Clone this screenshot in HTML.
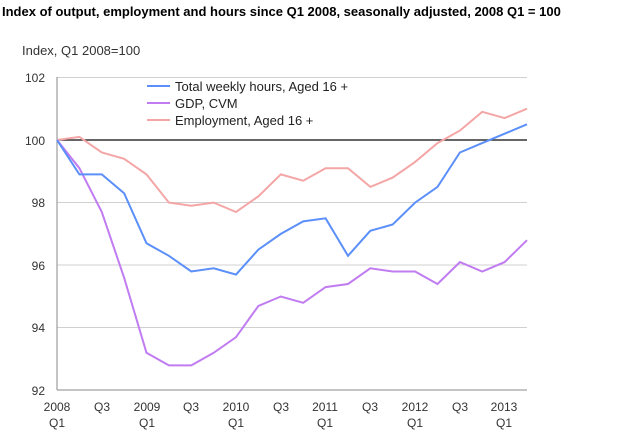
<!DOCTYPE html>
<html><head><meta charset="utf-8"><style>
body{margin:0;background:#fff;width:620px;height:441px;overflow:hidden;font-family:"Liberation Sans",sans-serif;}
</style></head><body>
<svg width="620" height="441" xmlns="http://www.w3.org/2000/svg" font-family="Liberation Sans, sans-serif">
<text x="2" y="16" font-size="13" font-weight="bold" fill="#000">Index of output, employment and hours since Q1 2008, seasonally adjusted, 2008 Q1 = 100</text>
<text x="22" y="55" font-size="13" fill="#333">Index, Q1 2008=100</text>
<g stroke="#d0d0d0" stroke-width="1">
<line x1="57" y1="77.5" x2="527" y2="77.5"/>
<line x1="57" y1="202.5" x2="527" y2="202.5"/>
<line x1="57" y1="265" x2="527" y2="265"/>
<line x1="57" y1="327.5" x2="527" y2="327.5"/>
</g>
<line x1="57" y1="140" x2="527" y2="140" stroke="#333" stroke-width="1.5"/>
<line x1="57" y1="77" x2="57" y2="390" stroke="#888"/>
<line x1="57" y1="390" x2="527" y2="390" stroke="#888"/>
<g font-size="12" fill="#333" text-anchor="end">
<text x="45" y="82">102</text><text x="45" y="145">100</text><text x="45" y="207">98</text>
<text x="45" y="270">96</text><text x="45" y="332">94</text><text x="45" y="395">92</text>
</g>
<g font-size="12" fill="#333" text-anchor="middle">
<text x="57" y="411">2008</text><text x="57" y="427">Q1</text>
<text x="102" y="411">Q3</text>
<text x="147" y="411">2009</text><text x="147" y="427">Q1</text>
<text x="191" y="411">Q3</text>
<text x="236" y="411">2010</text><text x="236" y="427">Q1</text>
<text x="281" y="411">Q3</text>
<text x="325" y="411">2011</text><text x="325" y="427">Q1</text>
<text x="370" y="411">Q3</text>
<text x="415" y="411">2012</text><text x="415" y="427">Q1</text>
<text x="460" y="411">Q3</text>
<text x="504" y="411">2013</text><text x="504" y="427">Q1</text>
</g>
<g id="lines" fill="none" stroke-width="2"></g>
<g font-size="13" fill="#222">
<line x1="147" y1="86" x2="170" y2="86" stroke="#5b8ff9" stroke-width="2"/><text x="175" y="91">Total weekly hours, Aged 16 +</text>
<line x1="147" y1="103" x2="170" y2="103" stroke="#c07cf0" stroke-width="2"/><text x="175" y="108">GDP, CVM</text>
<line x1="147" y1="120" x2="170" y2="120" stroke="#f4a6a6" stroke-width="2"/><text x="175" y="125">Employment, Aged 16 +</text>
</g>
<script>
var H=[100,98.9,98.9,98.3,96.7,96.3,95.8,95.9,95.7,96.5,97.0,97.4,97.5,96.3,97.1,97.3,98.0,98.5,99.6,99.9,100.2,100.5];
var G=[100,99.1,97.7,95.6,93.2,92.8,92.8,93.2,93.7,94.7,95.0,94.8,95.3,95.4,95.9,95.8,95.8,95.4,96.1,95.8,96.1,96.8];
var E=[100,100.1,99.6,99.4,98.9,98.0,97.9,98.0,97.7,98.2,98.9,98.7,99.1,99.1,98.5,98.8,99.3,99.9,100.3,100.9,100.7,101.0];
function pts(a){return a.map(function(v,i){return (57+i*470/21).toFixed(1)+","+(140-(v-100)*31.3).toFixed(1)}).join(" ")}
var g=document.getElementById("lines"),ns="http://www.w3.org/2000/svg";
[[E,"#f4a6a6"],[G,"#c07cf0"],[H,"#5b8ff9"]].forEach(function(s){var p=document.createElementNS(ns,"polyline");p.setAttribute("points",pts(s[0]));p.setAttribute("stroke",s[1]);g.appendChild(p);});
</script>
</svg>
</body></html>
